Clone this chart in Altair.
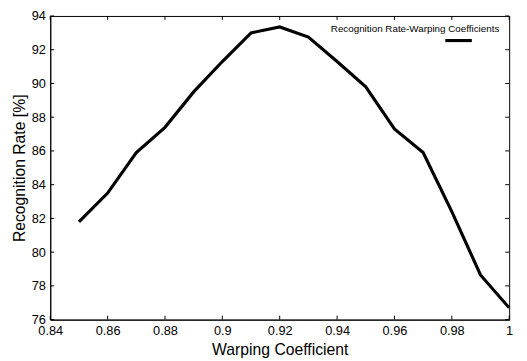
import altair as alt
import pandas as pd

# Data
warping = [0.85, 0.86, 0.87, 0.88, 0.89, 0.90, 0.91, 0.92, 0.93, 0.94, 0.95, 0.96, 0.97, 0.98, 0.99, 1.00]
rate = [81.8, 83.5, 85.9, 87.4, 89.5, 91.3, 93.0, 93.35, 92.75, 91.3, 89.8, 87.3, 85.9, 82.4, 78.65, 76.7]
x_ticks = [0.84, 0.86, 0.88, 0.90, 0.92, 0.94, 0.96, 0.98, 1.00]
y_ticks = [76, 78, 80, 82, 84, 86, 88, 90, 92, 94]
legend_label = "Recognition Rate-Warping Coefficients"

W, H = 467, 309
FONT = "Liberation Sans"

df = pd.DataFrame({"w": warping, "r": rate})
xt = pd.DataFrame({"w": x_ticks})
yt = pd.DataFrame({"r": y_ticks})

xscale = alt.Scale(domain=[0.84, 1.0], nice=False, zero=False)
yscale = alt.Scale(domain=[76, 94], nice=False, zero=False)

xaxis = alt.Axis(title="Warping Coefficient", values=x_ticks, format=".2~f",
                 grid=False, ticks=False, labelFontSize=13, titleFontSize=16,
                 labelFont=FONT, titleFont=FONT, labelColor="black", titleColor="black",
                 titleFontWeight="normal", domainColor="black", labelPadding=5,
                 titlePadding=5, labelFlush=False, labelOverlap=False)
yaxis = alt.Axis(title="Recognition Rate [%]", values=y_ticks, format="d",
                 grid=False, ticks=False, labelFontSize=13, titleFontSize=16,
                 labelFont=FONT, titleFont=FONT, labelColor="black", titleColor="black",
                 titleFontWeight="normal", domainColor="black", labelPadding=5,
                 titlePadding=4, labelFlush=False, labelOverlap=False)

X = alt.X("w:Q", scale=xscale, axis=xaxis)
Y = alt.Y("r:Q", scale=yscale, axis=yaxis)

line = alt.Chart(df).mark_line(color="black", strokeWidth=3.2).encode(x=X, y=Y)

xt_bottom = alt.Chart(xt).mark_rule(color="black", strokeWidth=1).encode(
    x=X, y=alt.value(H), y2=alt.value(H - 4))
xt_top = alt.Chart(xt).mark_rule(color="black", strokeWidth=1).encode(
    x=X, y=alt.value(0), y2=alt.value(4))
yt_left = alt.Chart(yt).mark_rule(color="black", strokeWidth=1).encode(
    y=Y, x=alt.value(0), x2=alt.value(4))
yt_right = alt.Chart(yt).mark_rule(color="black", strokeWidth=1).encode(
    y=Y, x=alt.value(W), x2=alt.value(W - 4))

leg_text = alt.Chart(pd.DataFrame({"t": [legend_label]})).mark_text(
    align="right", baseline="middle", fontSize=10, font=FONT, color="black").encode(
    text="t:N", x=alt.value(457), y=alt.value(13))
leg_line = alt.Chart(pd.DataFrame({"t": [legend_label]})).mark_rule(
    color="black", strokeWidth=3.2).encode(
    x=alt.value(402), x2=alt.value(429), y=alt.value(25))

chart = alt.layer(line, xt_bottom, xt_top, yt_left, yt_right, leg_text, leg_line).properties(
    width=W, height=H,
    autosize=alt.AutoSizeParams(type="none"),
    padding={"left": 43, "top": 5, "right": 10, "bottom": 40},
    background="white",
).configure_view(stroke="black", strokeWidth=1)

chart.save("out.html", embed_options={"renderer": "svg", "actions": False})
